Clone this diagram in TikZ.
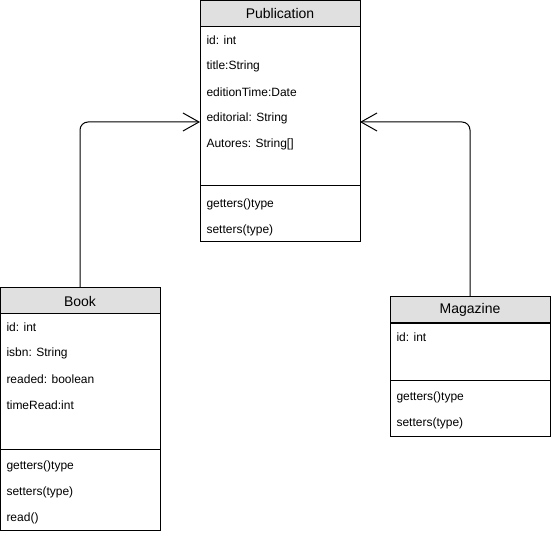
\documentclass[tikz,border=0pt]{standalone}
\usepackage{fontspec}
\setmainfont{Liberation Sans}
\usetikzlibrary{positioning}
\usetikzlibrary{arrows.meta}
\tikzset{headnode/.style={rectangle, draw=black, fill=black!12, minimum width=160pt, minimum height=26pt, inner sep=0pt, outer sep=0pt, font=\fontsize{14}{16}\selectfont}}
\tikzset{bodynode/.style={rectangle, draw=black, fill=white, minimum width=160pt, inner sep=0pt, outer sep=0pt}}
\tikzset{fieldnode/.style={anchor=west, inner sep=0pt, font=\fontsize{12}{14}\selectfont}}
\tikzset{inherit/.style={-{Straight Barb[length=16pt,width=18pt]}, rounded corners=8pt}}

\begin{document}
\begin{tikzpicture}[x=1pt, y=-1pt, line width=1pt]
    \useasboundingbox (0,0) rectangle (551,534);

    % Publication
    \node[headnode]    (pubhead)     at (280,14)                {Publication};
    \node[bodynode, minimum height=159pt]  (pubattr)  [below=0pt of pubhead]  {};
    \node[bodynode, minimum height=56pt]   (pubmeth)  [below=0pt of pubattr]  {};
    \node[fieldnode]   (pubid)       at (206,40)                {id: int};
    \node[fieldnode]   (pubtitle)    at (206,66)                {title:String};
    \node[fieldnode]   (pubedtime)   at (206,92)                {editionTime:Date};
    \node[fieldnode]   (pubeditor)   at (206,118)               {editorial: String};
    \node[fieldnode]   (pubauthors)  at (206,144)               {Autores: String[]};
    \node[fieldnode]   (pubget)      at (206,204)               {getters()type};
    \node[fieldnode]   (pubset)      at (206,230)               {setters(type)};

    % Book
    \node[headnode]    (bookhead)    at (80,301)                {Book};
    \node[bodynode, minimum height=135pt]  (bookattr) [below=0pt of bookhead] {};
    \node[bodynode, minimum height=81pt]   (bookmeth) [below=0pt of bookattr] {};
    \node[fieldnode]   (bookid)      at (6,327)                 {id: int};
    \node[fieldnode]   (bookisbn)    at (6,353)                 {isbn: String};
    \node[fieldnode]   (bookreaded)  at (6,379)                 {readed: boolean};
    \node[fieldnode]   (booktime)    at (6,405)                 {timeRead:int};
    \node[fieldnode]   (bookget)     at (6,466)                 {getters()type};
    \node[fieldnode]   (bookset)     at (6,492)                 {setters(type)};
    \node[fieldnode]   (bookread)    at (6,518)                 {read()};

    % Magazine
    \node[headnode]    (maghead)     at (470,310)               {Magazine};
    \node[bodynode, minimum height=57pt]   (magattr)  [below=0pt of maghead]  {};
    \node[bodynode, minimum height=56pt]   (magmeth)  [below=0pt of magattr]  {};
    \node[fieldnode]   (magid)       at (396,337)               {id: int};
    \node[fieldnode]   (magget)      at (396,397)               {getters()type};
    \node[fieldnode]   (magset)      at (396,423)               {setters(type)};

    \coordinate (publeft)  at (200,122);
    \coordinate (pubright) at (360,122);

    \draw[inherit] (bookhead.north) |- (publeft);
    \draw[inherit] (maghead.north) |- (pubright);
\end{tikzpicture}
\end{document}
